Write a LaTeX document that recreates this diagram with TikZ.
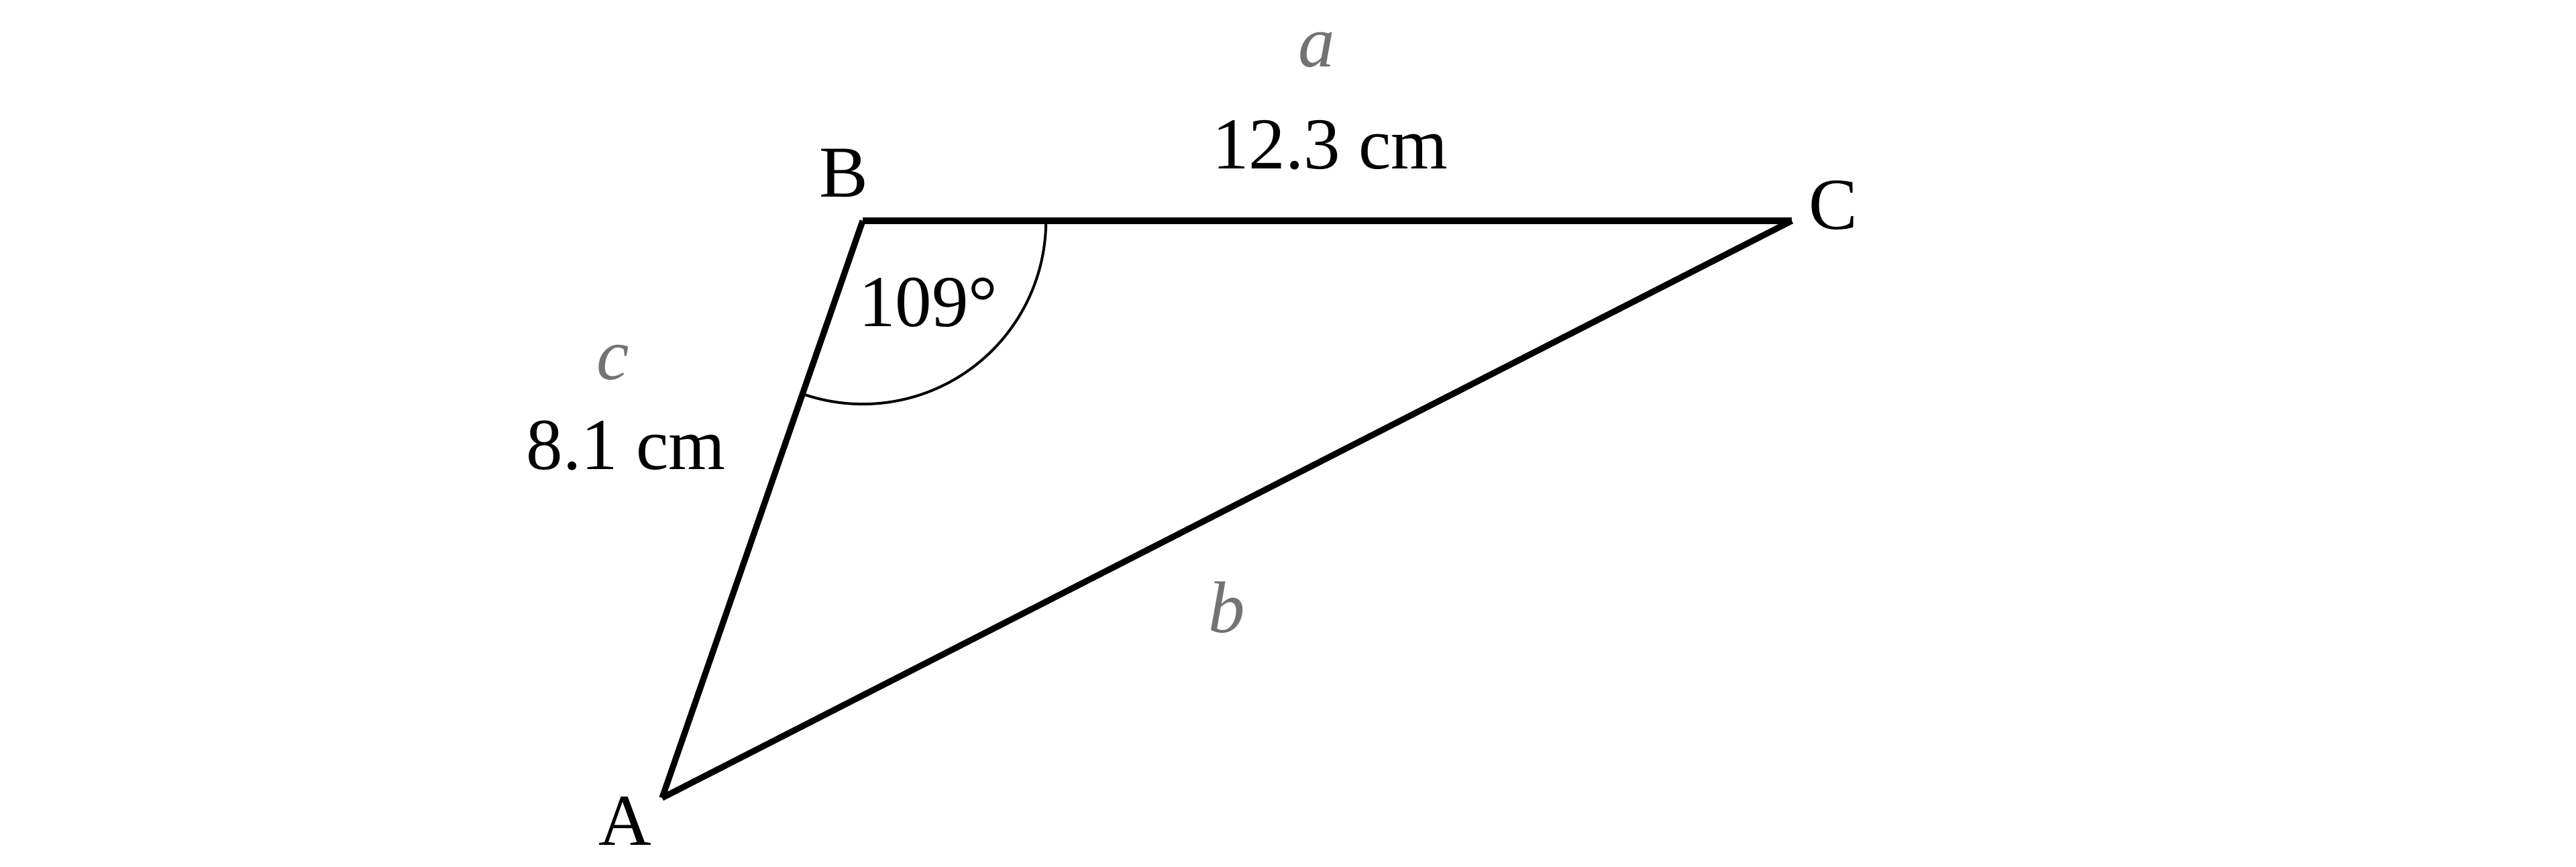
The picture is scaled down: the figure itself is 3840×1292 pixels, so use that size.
\documentclass[tikz,border=0pt]{standalone}
\usepackage{fontspec}
\setmainfont{Liberation Serif}
\begin{document}
\begin{tikzpicture}[x=0.01cm,y=0.01cm,
  side/.style={line width=0.092cm,black},
  anglearc/.style={line width=0.04cm,black},
  vlabel/.style={anchor=base,inner sep=0pt,font=\fontsize{31}{36}\selectfont},
  glabel/.style={anchor=base,inner sep=0pt,font=\fontsize{31}{36}\selectfont\itshape,text=black!55}]
\useasboundingbox (0,0) rectangle (3840,1292);
\coordinate (A) at (987,103);
\coordinate (B) at (1286,963);
\coordinate (C) at (2671,963);
\draw[side] (A) -- (B);
\draw[side] (B) -- (C);
\draw[side] (C) -- (A);
\draw[anglearc] ([xshift=2.73cm]B) arc[start angle=0,end angle=-109.17,radius=2.73cm];
\node[vlabel] (lA) at (932,32) {A};
\node[vlabel] (lB) at (1258,998) {B};
\node[vlabel] (lC) at (2733,950) {C};
\node[vlabel] (ang) at (1384,805) {109°};
\node[vlabel] (la) at (1983,1040) {12.3 cm};
\node[vlabel] (lc) at (933,592) {8.1 cm};
\node[glabel] (sa) at (1963,1192) {a};
\node[glabel] (sc) at (914,726) {c};
\node[glabel] (sb) at (1829,349) {b};
\end{tikzpicture}
\end{document}
